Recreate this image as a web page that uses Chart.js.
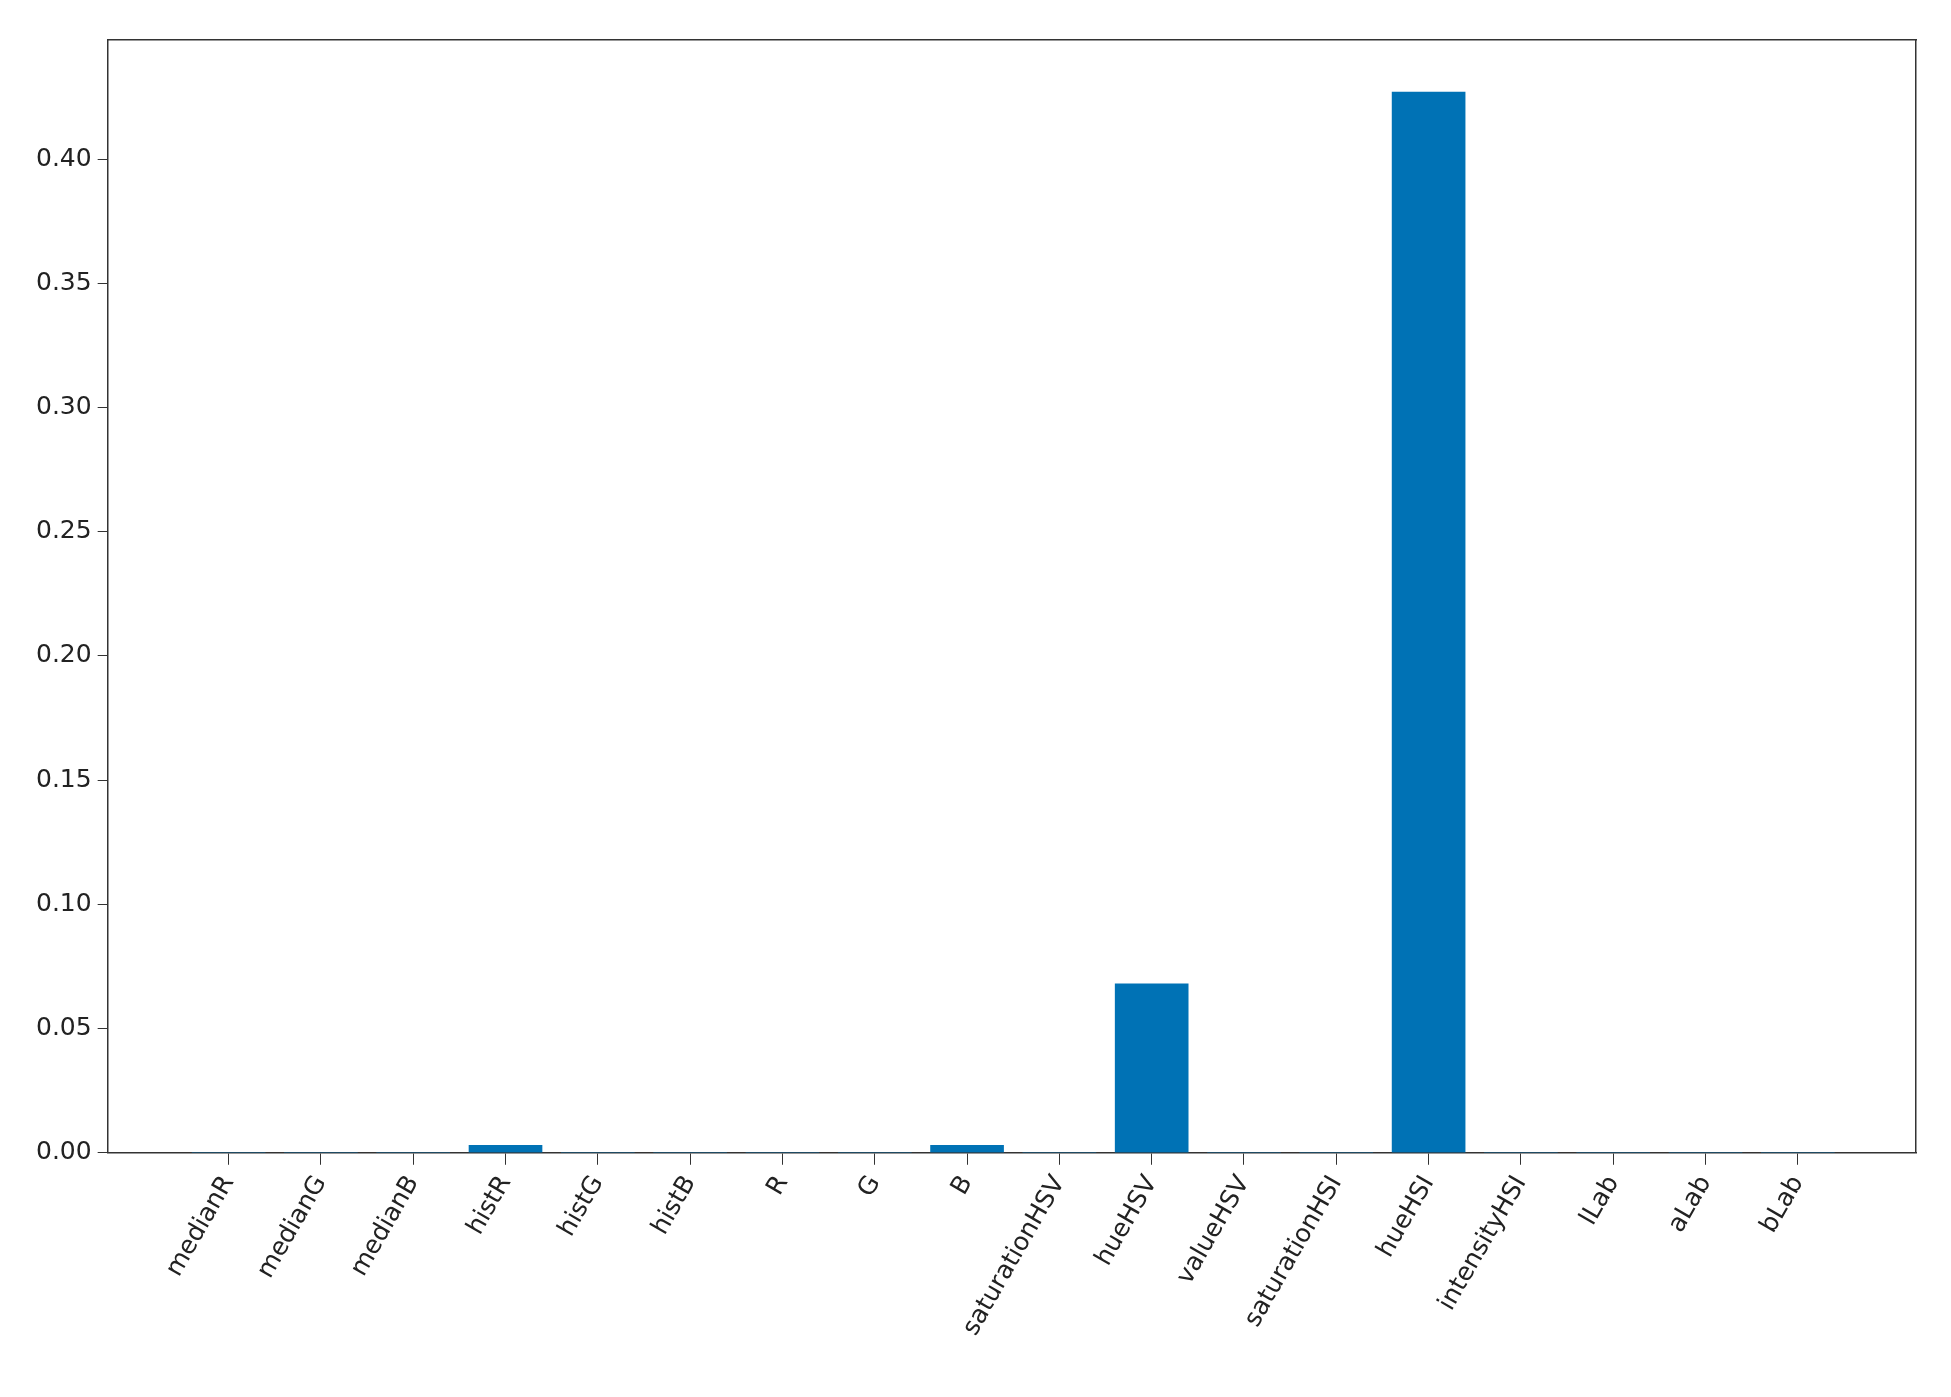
<!DOCTYPE html>
<html>
<head>
<meta charset="utf-8">
<script src="https://cdn.jsdelivr.net/npm/chart.js@4"></script>
<style>
  html, body { margin: 0; padding: 0; background: #fff; }
  #wrap { width: 1951px; height: 1397px; }
</style>
</head>
<body>
<div id="wrap"><canvas id="c"></canvas></div>
<script>
// Feature importances per colour feature.
const features = ['medianR', 'medianG', 'medianB', 'histR', 'histG', 'histB', 'R', 'G', 'B',
    'saturationHSV', 'hueHSV', 'valueHSV', 'saturationHSI', 'hueHSI', 'intensityHSI', 'lLab', 'aLab', 'bLab'];
const importance = [0, 0, 0, 0.003, 0, 0, 0, 0, 0.003, 0, 0.068, 0, 0, 0.427, 0, 0, 0, 0];
const yTicks = [0, 0.05, 0.10, 0.15, 0.20, 0.25, 0.30, 0.35, 0.40];

const points = features.map((f, i) => ({ x: i, y: importance[i] }));
const font = { family: 'DejaVu Sans', size: 25 };

new Chart(document.getElementById('c').getContext('2d'), {
    type: 'bar',
    data: { datasets: [{ data: points, backgroundColor: '#0072b5', barThickness: 73 }] },
    options: {
        responsive: true,
        maintainAspectRatio: false,
        animation: false,
        layout: { padding: { left: 30, top: 32, right: 27, bottom: 50 } },
        plugins: { legend: { display: false }, tooltip: { enabled: false } },
        scales: {
            x: {
                type: 'linear', min: -1.31, max: 18.28, offset: false,
                afterBuildTicks: axis => { axis.ticks = features.map((f, i) => ({ value: i })); },
                ticks: { callback: v => features[v], font: font, color: '#222', minRotation: 60, maxRotation: 60, autoSkip: false, padding: 6 },
                grid: { offset: false, drawOnChartArea: false, tickLength: 12, color: '#333' },
                border: { color: '#333', width: 1.5 }
            },
            y: {
                min: 0, max: 0.448,
                afterBuildTicks: axis => { axis.ticks = yTicks.map(v => ({ value: v })); },
                ticks: { callback: v => v.toFixed(2), font: font, color: '#222', padding: 6 },
                grid: { drawOnChartArea: false, tickLength: 10, color: '#333' },
                border: { color: '#333', width: 1.5 }
            },
            x2: { position: 'top', type: 'linear', min: 0, max: 1, ticks: { display: false }, grid: { display: false }, border: { color: '#333', width: 1.5 } },
            y2: { position: 'right', min: 0, max: 1, ticks: { display: false }, grid: { display: false }, border: { color: '#333', width: 1.5 } }
        }
    }
});
</script>
</body>
</html>
